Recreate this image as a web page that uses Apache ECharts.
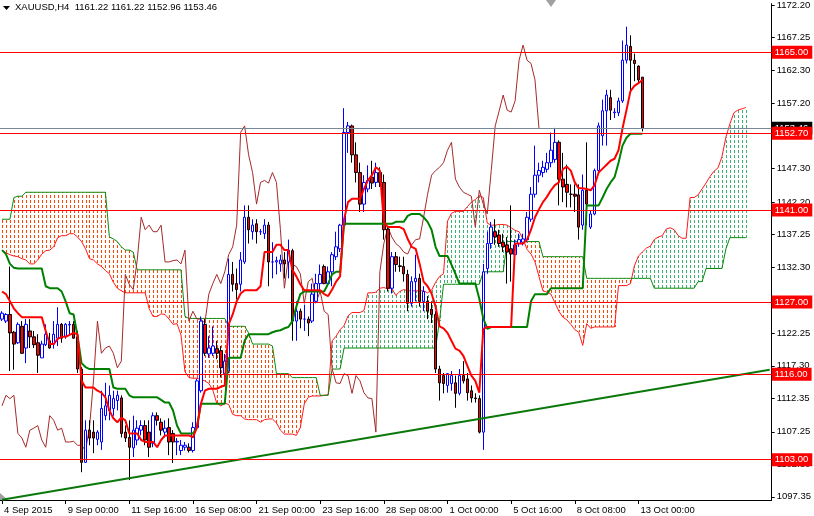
<!DOCTYPE html>
<html><head><meta charset="utf-8">
<script src="https://cdn.jsdelivr.net/npm/echarts@6/dist/echarts.min.js"></script>
<style>html,body{margin:0;padding:0;background:#fff}#c{width:814px;height:516px}</style>
</head><body><div id="c"></div>
<script>
// ---- data (bar 0 = first visible H4 bar at the left edge) ----
const titleText = 'XAUUSD,H4  1161.22 1161.22 1152.96 1153.46';
const xTickLabels = ['4 Sep 2015','9 Sep 00:00','11 Sep 16:00','16 Sep 08:00','21 Sep 00:00','23 Sep 16:00','28 Sep 08:00','1 Oct 00:00','5 Oct 16:00','8 Oct 08:00','13 Oct 00:00'];
const barsPerLabel = 16;
const slotCount = 194;           // price bars + 26 projected cloud bars + right margin
const chikouShift = 26;
const yTicks = [1097.35,1102.30,1107.25,1112.35,1117.30,1122.25,1127.25,1132.30,1137.25,1142.20,1147.30,1152.25,1157.20,1162.30,1167.25,1172.20];
const levels = [1165.00,1152.70,1141.00,1127.00,1116.00,1103.00];
const lastPrice = 1153.46;
const trendLine = [[0,1096.9],[193,1116.7]];

// [open, close, low, high]
const candles = [
[1124.4,1125.3,1124.1,1125.6],
[1124.1,1125.1,1123.8,1125.3],[1125.1,1122.3,1116.5,1132.4],[1122.4,1120.6,1116.7,1122.6],[1120.8,1123.6,1120.6,1123.9],[1123.3,1119.2,1119.1,1124.1],
[1120.0,1123.6,1117.7,1124.4],[1122.6,1121.7,1120.0,1124.4],[1121.7,1120.5,1120.0,1122.6],[1120.8,1118.9,1116.2,1122.1],[1118.5,1120.6,1118.5,1121.1],
[1120.5,1122.1,1120.3,1123.6],[1121.1,1120.0,1119.9,1122.3],[1120.6,1122.1,1119.9,1124.1],[1121.5,1123.6,1120.3,1126.2],[1123.6,1121.5,1120.8,1123.8],
[1121.8,1123.6,1121.4,1123.8],[1123.5,1123.6,1122.1,1124.1],[1123.6,1121.5,1121.4,1124.1],[1121.7,1116.8,1116.2,1122.6],[1116.8,1102.6,1101.1,1117.1],
[1102.6,1107.5,1102.5,1109.0],[1107.5,1106.3,1105.2,1109.0],[1107.2,1106.3,1104.0,1109.0],[1106.1,1107.2,1105.2,1107.5],[1105.7,1110.8,1104.5,1113.5],
[1109.7,1111.2,1109.0,1114.7],[1110.5,1112.8,1109.0,1114.3],[1110.8,1112.3,1109.7,1113.5],[1112.0,1112.8,1110.5,1113.5],[1112.4,1107.0,1106.4,1112.8],
[1107.2,1106.3,1105.7,1108.2],[1106.4,1104.9,1099.9,1109.0],[1104.8,1107.5,1103.4,1109.7],[1106.0,1107.8,1105.2,1109.0],[1107.5,1108.2,1106.7,1109.0],
[1108.2,1106.0,1105.2,1109.0],[1107.2,1104.9,1103.4,1109.0],[1105.5,1109.7,1104.9,1110.2],[1109.7,1109.0,1108.2,1110.2],[1108.7,1107.5,1106.7,1109.3],
[1107.2,1107.8,1106.4,1109.0],[1107.9,1105.7,1103.7,1109.3],[1107.0,1105.7,1102.5,1107.5],[1105.7,1105.8,1103.7,1106.3],[1104.4,1105.2,1103.7,1106.0],
[1104.9,1105.2,1104.4,1105.7],[1104.9,1104.4,1104.1,1105.5],[1104.4,1107.9,1104.1,1108.7],[1107.9,1115.0,1107.5,1115.3],[1113.5,1124.1,1113.2,1124.8],
[1123.6,1119.2,1118.8,1124.4],[1119.1,1120.0,1118.5,1121.8],[1119.2,1120.3,1118.8,1123.3],[1119.9,1119.2,1118.3,1121.1],[1119.6,1117.0,1115.5,1120.3],
[1116.1,1118.0,1115.0,1119.1],[1116.5,1131.2,1116.2,1133.6],[1131.2,1129.7,1128.6,1133.1],[1129.8,1128.9,1127.4,1132.1],[1129.7,1133.4,1128.6,1134.6],
[1133.1,1139.9,1132.8,1141.7],[1139.9,1138.0,1135.9,1141.7],[1137.7,1138.7,1136.5,1139.6],[1138.9,1137.7,1135.9,1139.6],[1137.7,1137.7,1137.2,1138.1],
[1137.4,1138.7,1136.6,1139.6],[1138.7,1133.1,1129.4,1139.2],[1133.1,1133.1,1130.6,1136.1],[1133.1,1133.3,1131.2,1133.9],[1132.8,1133.4,1131.6,1134.2],
[1133.4,1132.8,1130.6,1134.6],[1133.1,1134.9,1130.6,1136.5],[1134.8,1124.1,1121.1,1135.1],[1124.1,1125.6,1121.1,1127.1],[1125.6,1124.4,1123.0,1126.0],
[1124.4,1124.4,1122.6,1126.6],[1124.4,1123.8,1121.8,1124.8],[1124.1,1128.2,1123.8,1129.8],[1127.1,1129.8,1126.8,1131.3],[1129.8,1131.2,1128.6,1132.7],
[1132.4,1129.8,1129.7,1132.7],[1129.8,1131.6,1129.4,1132.4],[1131.6,1134.2,1129.4,1134.6],[1133.9,1135.4,1133.4,1137.7],[1135.1,1138.7,1134.6,1138.9],
[1138.7,1152.8,1138.4,1156.5],[1152.8,1153.8,1149.7,1154.4],[1153.8,1149.4,1148.2,1154.0],[1149.4,1146.7,1145.2,1151.3],[1146.7,1141.9,1140.7,1148.2],
[1141.9,1145.2,1140.7,1146.3],[1144.2,1145.5,1143.7,1147.8],[1146.0,1145.1,1144.2,1148.5],[1145.2,1146.7,1144.5,1148.2],[1146.7,1145.2,1144.5,1147.5],
[1145.2,1138.0,1136.5,1146.4],[1138.1,1129.1,1128.6,1138.4],[1129.1,1133.9,1128.3,1134.6],[1133.9,1132.7,1131.6,1134.6],[1132.5,1132.4,1131.6,1133.9],
[1132.4,1131.3,1130.1,1133.9],[1131.2,1126.8,1125.6,1131.9],[1126.8,1130.1,1126.3,1130.9],[1130.1,1130.6,1127.1,1134.2],[1130.6,1127.1,1126.3,1131.3],
[1127.1,1128.6,1125.6,1129.4],[1127.1,1125.6,1124.4,1127.9],[1125.9,1125.1,1123.8,1127.1],[1125.1,1116.8,1116.2,1125.6],[1116.8,1114.7,1112.0,1117.3],
[1115.8,1114.6,1113.1,1116.2],[1114.3,1116.1,1113.2,1116.2],[1114.6,1115.8,1113.5,1116.5],[1114.7,1113.1,1110.9,1115.8],[1113.1,1115.8,1112.8,1116.8],
[1115.8,1115.0,1114.6,1118.0],[1115.3,1113.2,1112.0,1116.2],[1113.5,1112.4,1111.7,1114.3],[1112.4,1112.3,1111.7,1113.1],[1112.3,1107.2,1107.0,1112.8],
[1107.2,1131.6,1104.5,1132.8],[1132.1,1135.9,1131.3,1137.7],[1135.9,1138.4,1135.1,1139.2],[1137.7,1136.9,1135.7,1139.6],[1137.2,1135.9,1135.4,1138.0],
[1136.1,1135.4,1134.6,1137.4],[1135.7,1134.6,1129.8,1136.9],[1135.1,1134.3,1130.1,1141.7],[1134.2,1135.7,1133.4,1136.5],[1135.9,1136.5,1135.4,1137.4],
[1136.1,1136.6,1135.6,1137.4],[1136.5,1139.9,1136.1,1140.7],[1139.6,1143.4,1139.2,1144.5],[1143.4,1146.3,1142.9,1150.8],[1146.3,1147.0,1145.2,1148.2],
[1146.7,1147.5,1146.0,1148.5],[1147.2,1148.2,1146.7,1149.7],[1148.2,1150.1,1147.5,1152.8],[1148.7,1151.3,1148.2,1153.5],[1151.3,1145.7,1141.7,1151.6],
[1145.7,1144.5,1142.2,1149.7],[1144.9,1143.7,1141.4,1147.9],[1143.4,1143.4,1141.4,1144.9],[1143.4,1143.1,1140.7,1144.9],[1143.3,1138.4,1136.5,1144.9],
[1138.7,1144.0,1138.0,1146.4],[1144.0,1141.9,1138.7,1151.3],[1138.4,1140.4,1138.1,1141.0],[1140.4,1147.0,1140.2,1147.3],[1147.0,1153.8,1146.7,1154.3],
[1152.3,1156.1,1150.8,1157.8],[1156.1,1158.5,1150.8,1159.3],[1158.1,1156.2,1154.7,1159.3],[1155.8,1155.9,1155.0,1156.5],[1155.8,1157.6,1155.3,1158.1],
[1157.6,1163.8,1157.3,1166.8],[1163.8,1166.1,1163.3,1168.9],[1165.9,1163.8,1159.1,1167.6],[1163.8,1163.3,1160.6,1164.8],[1162.9,1160.8,1160.3,1163.0],
[1161.22,1153.46,1152.96,1161.22]
];

const tenkan = [
1128.6,1128.2,1127.1,1126.0,1125.3,1124.7,1124.7,1124.7,1124.7,1124.7,1124.7,
1122.6,1120.6,1120.6,1121.4,1121.7,1121.7,1122.0,1122.3,1122.1,1115.0,
1114.0,1114.0,1114.0,1113.5,1113.2,1112.5,1110.5,1109.3,1108.7,1109.4,
1109.0,1107.0,1107.0,1107.0,1106.0,1105.7,1105.7,1105.7,1104.9,1106.0,
1106.7,1106.7,1106.7,1106.7,1106.7,1106.7,1106.7,1106.4,1107.9,1111.5,
1113.5,1113.8,1113.8,1113.8,1114.1,1114.3,1123.6,1125.1,1127.1,1128.3,
1128.8,1128.8,1128.8,1128.8,1129.4,1134.6,1134.6,1134.6,1135.7,1135.7,
1134.9,1134.9,1131.9,1130.9,1129.7,1128.8,1128.8,1128.8,1128.8,1128.8,
1128.2,1127.9,1128.9,1130.1,1130.9,1139.6,1142.2,1142.7,1142.7,1142.7,
1144.2,1145.5,1146.3,1147.5,1147.0,1139.2,1138.4,1138.4,1138.4,1138.4,
1138.1,1136.6,1135.4,1135.1,1132.8,1130.1,1129.4,1128.3,1126.3,1123.3,
1123.0,1122.3,1121.1,1119.9,1119.6,1118.8,1117.3,1115.8,1115.0,1113.2,
1122.9,1123.2,1123.2,1123.2,1123.2,1123.2,1123.2,1123.2,1135.9,1135.9,
1135.9,1136.5,1138.0,1139.9,1141.1,1142.2,1143.0,1144.0,1144.8,1145.2,
1147.2,1147.6,1147.0,1145.2,1144.3,1144.3,1144.2,1144.0,1144.8,1146.7,
1147.3,1147.9,1148.5,1148.8,1150.1,1153.4,1156.2,1159.1,1159.9,1160.3,1160.8
];

const kijun = [
1134.9,1134.3,1132.8,1132.2,1132.1,1132.1,1132.1,1132.1,1132.1,1132.1,1132.1,
1129.4,1129.1,1129.1,1129.1,1128.6,1127.1,1125.3,1125.1,1121.8,1117.7,
1117.1,1116.8,1116.8,1116.8,1116.8,1116.8,1116.8,1114.0,1113.8,1113.8,
1113.8,1112.8,1112.5,1112.5,1112.5,1112.5,1112.5,1112.5,1112.5,1112.1,
1111.7,1111.7,1110.5,1108.2,1107.0,1107.0,1107.0,1107.0,1107.9,1111.5,
1111.5,1111.5,1111.5,1111.5,1111.5,1111.5,1118.5,1118.5,1118.5,1118.5,
1121.1,1122.1,1122.1,1122.1,1122.1,1122.1,1122.1,1122.4,1122.6,1122.7,
1123.0,1123.2,1124.1,1126.3,1128.2,1128.6,1128.6,1128.6,1128.6,1128.6,
1128.6,1129.8,1131.2,1131.6,1131.6,1138.9,1138.9,1138.9,1138.9,1138.9,
1138.9,1138.9,1138.9,1138.9,1138.9,1138.9,1138.9,1138.9,1139.2,1139.2,
1139.2,1140.1,1140.4,1140.4,1140.4,1139.9,1139.2,1138.0,1135.4,1134.0,
1134.0,1134.0,1132.7,1131.3,1129.8,1129.8,1129.8,1129.8,1129.8,1127.5,
1124.5,1122.9,1123.2,1123.2,1123.2,1123.2,1123.2,1123.2,1123.2,1123.2,
1123.2,1123.2,1127.1,1128.2,1128.2,1128.2,1128.2,1129.1,1129.1,1129.1,
1129.1,1129.1,1129.1,1129.1,1129.1,1129.1,1141.7,1141.7,1141.7,1141.7,
1142.9,1144.2,1145.2,1146.0,1148.2,1150.8,1152.0,1152.6,1152.6,1152.6,1152.6
];

const senkouA = [
1134.9,1134.5,1134.2,1134.0,1133.9,1133.6,1133.4,1132.8,1132.8,1133.4,1134.3,
1134.8,1134.9,1135.4,1136.8,1137.1,1137.1,1137.4,1137.4,1136.9,1136.2,
1135.1,1133.6,1133.4,1132.8,1132.4,1131.8,1131.3,1130.0,1129.1,1128.7,
1128.4,1128.4,1128.4,1128.4,1128.4,1128.4,1126.0,1124.8,1124.8,1125.2,
1125.1,1124.4,1123.6,1123.7,1122.0,1116.4,1115.5,1115.4,1115.4,1115.2,
1115.0,1114.6,1113.6,1111.6,1111.2,1111.6,1111.4,1109.9,1109.7,1109.7,
1109.2,1109.1,1109.1,1109.1,1108.7,1109.1,1109.2,1109.2,1108.6,1107.5,
1106.9,1106.9,1106.9,1106.7,1107.9,1111.5,1112.5,1112.7,1112.7,1112.7,
1112.8,1112.9,1121.1,1121.8,1122.8,1123.4,1124.9,1125.4,1125.4,1125.4,
1125.7,1128.4,1128.4,1128.5,1129.1,1129.2,1129.0,1129.1,1128.0,1128.6,
1128.9,1128.7,1128.7,1128.7,1128.7,1128.7,1128.4,1128.8,1130.0,1130.9,
1131.3,1139.3,1140.5,1140.8,1140.8,1140.8,1141.5,1142.2,1142.6,1143.2,
1142.9,1139.0,1138.7,1138.7,1138.8,1138.8,1138.7,1138.3,1137.9,1137.7,
1136.6,1135.0,1134.3,1133.1,1130.9,1128.7,1128.5,1128.2,1126.9,1125.6,
1124.7,1124.3,1123.6,1122.8,1122.4,1120.4,1123.7,1123.0,1123.2,1123.2,
1123.2,1123.2,1123.2,1123.2,1129.5,1129.5,1129.5,1129.8,1132.5,1134.0,
1134.6,1135.2,1135.5,1136.5,1136.9,1137.1,1138.1,1138.3,1138.0,1137.1,
1136.7,1136.7,1142.9,1142.9,1143.3,1144.2,1145.1,1146.1,1146.9,1147.4,
1149.1,1152.1,1154.1,1155.8,1156.2,1156.4,1156.6
];

const senkouB = [
1139.6,1139.6,1139.6,1142.9,1143.1,1143.1,1143.7,1143.7,1143.7,1143.7,1143.7,
1143.7,1143.7,1143.7,1143.7,1143.7,1143.7,1143.7,1143.7,1143.7,1143.7,
1143.7,1143.7,1143.7,1143.7,1143.7,1143.7,1136.9,1136.6,1136.2,1135.4,
1134.9,1134.9,1134.6,1131.9,1131.9,1131.9,1131.9,1131.9,1131.9,1131.9,
1131.9,1131.9,1131.9,1131.9,1131.9,1124.8,1124.5,1124.5,1124.5,1124.5,
1124.5,1124.5,1124.5,1124.5,1124.5,1124.5,1123.3,1123.3,1123.3,1123.3,
1123.3,1122.3,1120.6,1120.6,1120.6,1120.6,1120.6,1120.3,1116.1,1116.1,
1116.1,1116.1,1115.5,1115.5,1115.5,1115.5,1115.5,1115.5,1115.5,1112.8,
1112.8,1112.8,1116.8,1116.8,1116.8,1120.0,1120.0,1120.0,1120.0,1120.0,
1120.0,1120.0,1120.0,1120.0,1120.0,1120.0,1120.0,1120.0,1120.0,1120.0,
1120.0,1120.0,1120.0,1120.0,1120.0,1120.0,1120.0,1120.0,1120.0,1124.1,
1129.7,1129.7,1129.7,1129.7,1129.7,1129.7,1129.7,1129.7,1129.7,1129.7,
1131.6,1131.6,1131.6,1131.6,1131.6,1131.6,1136.2,1136.2,1136.2,1136.2,
1136.2,1136.2,1136.2,1136.2,1136.2,1133.9,1133.9,1133.9,1133.9,1133.9,
1133.9,1133.9,1133.9,1133.9,1133.9,1133.9,1130.6,1130.6,1130.6,1130.6,
1130.6,1130.6,1130.6,1130.6,1130.6,1130.6,1130.6,1130.6,1130.6,1130.6,
1130.6,1130.6,1130.6,1129.1,1129.1,1129.1,1129.1,1129.1,1129.1,1129.1,
1129.1,1129.1,1129.1,1129.1,1130.1,1130.1,1132.1,1132.1,1132.1,1132.1,
1132.1,1135.1,1136.8,1136.8,1136.8,1136.8,1136.8
];

// ---- derived ----
const categories = Array.from({length: slotCount}, (_, j) =>
  (j % barsPerLabel === 0 && xTickLabels[j / barsPerLabel]) ? xTickLabels[j / barsPerLabel] : ('#' + j));
const isLabelSlot = (j) => j % barsPerLabel === 0 && j / barsPerLabel < xTickLabels.length;
const chikou = candles.slice(chikouShift).map(c => c[1]);
const cloud = senkouA.map((a, j) => [j, a, senkouB[j]]);
const FONT = "'Liberation Sans', Arial, sans-serif";
const BULL_CLOUD = '#3cb371', BEAR_CLOUD = '#ff4500';

const chart = echarts.init(document.getElementById('c'), null, {renderer: 'canvas'});
const lvlLabel = (bg) => ({
  show: true, position: 'end', distance: 0, formatter: (p) => p.value.toFixed(2),
  color: '#fff', backgroundColor: bg, fontFamily: FONT, fontSize: 9.5, padding: [2, 4, 1, 3]
});
chart.setOption({
  animation: false,
  backgroundColor: '#fff',
  grid: {left: -2, right: 40, top: 0, bottom: 16, containLabel: false},
  xAxis: {
    type: 'category', data: categories, boundaryGap: true,
    axisLine: {show: true, lineStyle: {color: '#000', width: 1}},
    axisTick: {show: true, alignWithLabel: true, length: 4, interval: (i) => isLabelSlot(i), lineStyle: {color: '#000'}},
    axisLabel: {show: true, interval: (i) => isLabelSlot(i), align: 'left', margin: 5, padding: [0, 0, 0, 2],
      color: '#000', fontFamily: FONT, fontSize: 9.5},
    splitLine: {show: false}
  },
  yAxis: {
    type: 'value', position: 'right', min: 1096.87, max: 1172.4, scale: true,
    axisLine: {show: true, lineStyle: {color: '#000', width: 1}},
    axisTick: {show: true, length: 3, customValues: yTicks, lineStyle: {color: '#000'}},
    axisLabel: {show: true, customValues: yTicks, formatter: (v) => v.toFixed(2), margin: 5,
      color: '#000', fontFamily: FONT, fontSize: 9.5},
    splitLine: {show: false}
  },
  graphic: [
    {type: 'polygon', shape: {points: [[3, 6], [10, 6], [6.5, 10]]}, style: {fill: '#000'}},
    {type: 'text', left: 15, top: 2, style: {text: titleText, font: '9.5px ' + FONT, fill: '#000'}},
    {type: 'polygon', shape: {points: [[546, 0], [556, 0], [551, 7]]}, style: {fill: '#a0a0a0'}},
    {type: 'polygon', shape: {points: [[0, 493], [0, 500], [8, 500]]}, style: {fill: '#a0a0a0'}}
  ],
  series: [
    {
      type: 'custom', name: 'cloud', data: cloud, encode: {x: 0, y: [1, 2]}, silent: true, z: 1,
      renderItem: (params, api) => {
        const j = api.value(0), a = api.value(1), b = api.value(2);
        const pa = api.coord([j, a]), pb = api.coord([j, b]);
        const x = Math.round(pa[0]);
        const top = Math.round(Math.min(pa[1], pb[1])), bot = Math.round(Math.max(pa[1], pb[1]));
        const fill = a > b ? BULL_CLOUD : BEAR_CLOUD;
        const children = [];
        for (let y = Math.floor(top / 5) * 5; y < bot; y += 5) {
          const s = Math.max(y, top), e = Math.min(y + 3, bot);
          if (e > s) children.push({type: 'rect', shape: {x: x, y: s, width: 1, height: e - s}, style: {fill: fill, stroke: null}});
        }
        return {type: 'group', children: children};
      }
    },
    {type: 'line', name: 'Senkou A', data: senkouA, symbol: 'none', z: 2, lineStyle: {color: '#ff1a1a', width: 1}, silent: true},
    {type: 'line', name: 'Senkou B', data: senkouB, symbol: 'none', z: 2, lineStyle: {color: '#0a8a0a', width: 1}, silent: true},
    {type: 'line', name: 'Chikou', data: chikou, symbol: 'none', z: 3, lineStyle: {color: '#a52a2a', width: 1}, silent: true},
    {
      type: 'candlestick', name: 'XAUUSD', data: candles, barWidth: 3, z: 4, silent: true,
      itemStyle: {color: '#ffffff', color0: '#ff0000', borderColor: '#0000ff', borderColor0: '#000000', borderWidth: 1},
      markLine: {
        silent: true, symbol: ['none', 'none'], animation: false, z: 6,
        data: [{yAxis: lastPrice, lineStyle: {color: '#778899', width: 1, type: 'solid'}, label: lvlLabel('#000')}]
          .concat(levels.map(v => ({yAxis: v, lineStyle: {color: '#ff0000', width: 1, type: 'solid'}, label: lvlLabel('#ff0000')})))
      }
    },
    {type: 'line', name: 'Kijun', data: kijun, symbol: 'none', z: 5, lineStyle: {color: '#008000', width: 2}, silent: true},
    {type: 'line', name: 'Tenkan', data: tenkan, symbol: 'none', z: 5, lineStyle: {color: '#ff0000', width: 2}, silent: true},
    {type: 'line', name: 'Trend', data: trendLine, symbol: 'none', z: 5, lineStyle: {color: '#0b780b', width: 2}, silent: true}
  ]
});
</script>
</body></html>
